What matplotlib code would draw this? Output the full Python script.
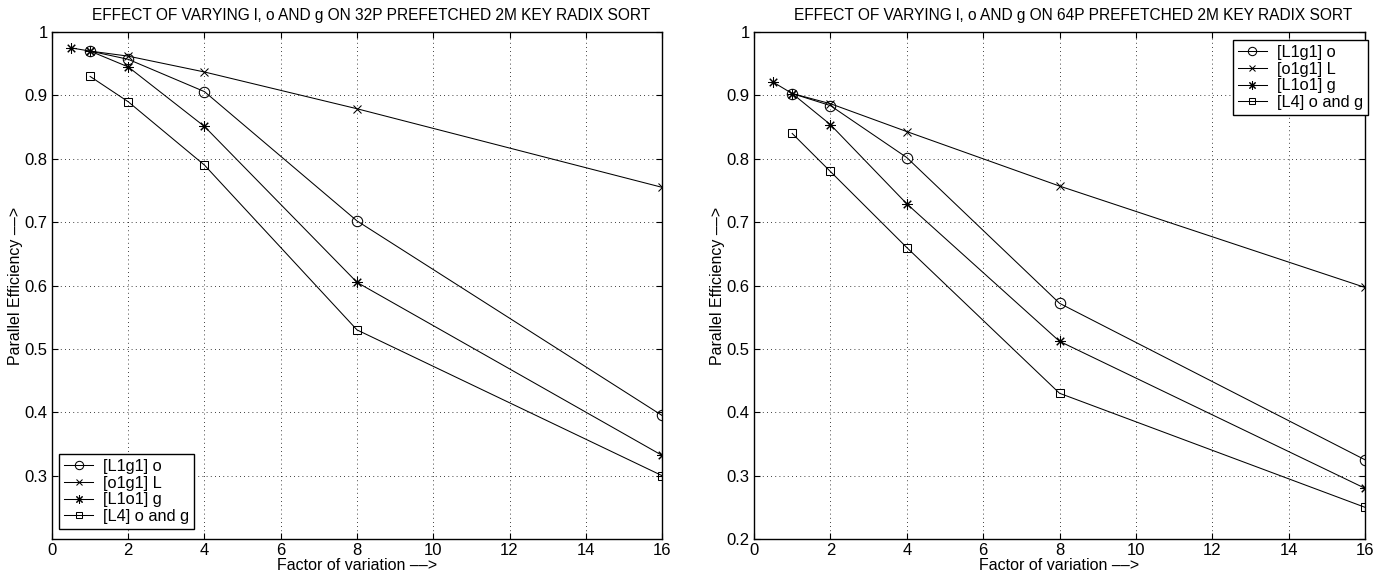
import matplotlib
matplotlib.use("Agg")
import matplotlib.pyplot as plt

plt.rcParams['font.family'] = ['Liberation Sans', 'DejaVu Sans']

labels = ["[L1g1] o", "[o1g1] L", "[L1o1] g", "[L4] o and g"]
markers = ["o", "x", (8, 2, 0), "s"]
msizes = [7.5, 5.5, 7.5, 5.5]

# 32P data
x_o_32 = [1, 2, 4, 8, 16]
y_o_32 = [0.970, 0.957, 0.906, 0.702, 0.395]
x_L_32 = [1, 2, 4, 8, 16]
y_L_32 = [0.970, 0.962, 0.937, 0.879, 0.755]
x_g_32 = [0.5, 1, 2, 4, 8, 16]
y_g_32 = [0.975, 0.970, 0.945, 0.851, 0.605, 0.332]
x_og_32 = [1, 2, 4, 8, 16]
y_og_32 = [0.930, 0.890, 0.790, 0.530, 0.300]

# 64P data
x_o_64 = [1, 2, 4, 8, 16]
y_o_64 = [0.903, 0.884, 0.802, 0.572, 0.325]
x_L_64 = [1, 2, 4, 8, 16]
y_L_64 = [0.903, 0.887, 0.843, 0.757, 0.597]
x_g_64 = [0.5, 1, 2, 4, 8, 16]
y_g_64 = [0.921, 0.903, 0.854, 0.729, 0.512, 0.280]
x_og_64 = [1, 2, 4, 8, 16]
y_og_64 = [0.840, 0.780, 0.660, 0.430, 0.250]

fig = plt.figure(figsize=(13.94, 5.8), dpi=100)
ax1 = fig.add_axes([0.0373, 0.0707, 0.4376, 0.874])
ax2 = fig.add_axes([0.5409, 0.0707, 0.4383, 0.874])

def draw(ax, series, title, yticks, legend_kw):
    for (xs, ys), lab, m, ms in zip(series, labels, markers, msizes):
        ax.plot(xs, ys, color="black", lw=0.75, marker=m, ms=ms,
                mfc="none", mec="black", mew=0.75, label=lab)
    ax.set_xlim(0, 16)
    ax.set_ylim(0.2, 1)
    ax.set_xticks(range(0, 17, 2))
    ax.set_yticks(yticks)
    ax.set_yticklabels(["1" if t == 1 else "%.1f" % t for t in yticks])
    ax.grid(True, linestyle=(0, (1, 4)), color="black", lw=0.6)
    ax.tick_params(direction="in", top=True, right=True, labelsize=12, length=4, pad=3)
    for s in ax.spines.values():
        s.set_linewidth(1.0)
    ax.set_xlabel("Factor of variation \u2013\u2013>", fontsize=11.5, labelpad=0)
    ax.set_ylabel("Parallel Efficiency \u2013\u2013>", fontsize=11.5, labelpad=1)
    ax.set_title(title, fontsize=11.2, x=0.523, pad=9)
    leg = ax.legend(fontsize=11.8, fancybox=False, edgecolor="black", framealpha=1,
                    handlelength=1.8, borderpad=0.3, labelspacing=0.1,
                    handletextpad=0.6, markerscale=0.8, **legend_kw)
    leg.get_frame().set_linewidth(1.0)

draw(ax1, [(x_o_32, y_o_32), (x_L_32, y_L_32), (x_g_32, y_g_32), (x_og_32, y_og_32)],
     "EFFECT OF VARYING l, o AND g ON 32P PREFETCHED 2M KEY RADIX SORT",
     [0.3, 0.4, 0.5, 0.6, 0.7, 0.8, 0.9, 1.0],
     dict(loc="lower left", bbox_to_anchor=(7 / 610, 10 / 507), borderaxespad=0))
draw(ax2, [(x_o_64, y_o_64), (x_L_64, y_L_64), (x_g_64, y_g_64), (x_og_64, y_og_64)],
     "EFFECT OF VARYING l, o AND g ON 64P PREFETCHED 2M KEY RADIX SORT",
     [0.2, 0.3, 0.4, 0.5, 0.6, 0.7, 0.8, 0.9, 1.0],
     dict(loc="upper right", bbox_to_anchor=(1 + 3 / 611, 1 - 8 / 507), borderaxespad=0))

fig.savefig("out.png", dpi=100)
